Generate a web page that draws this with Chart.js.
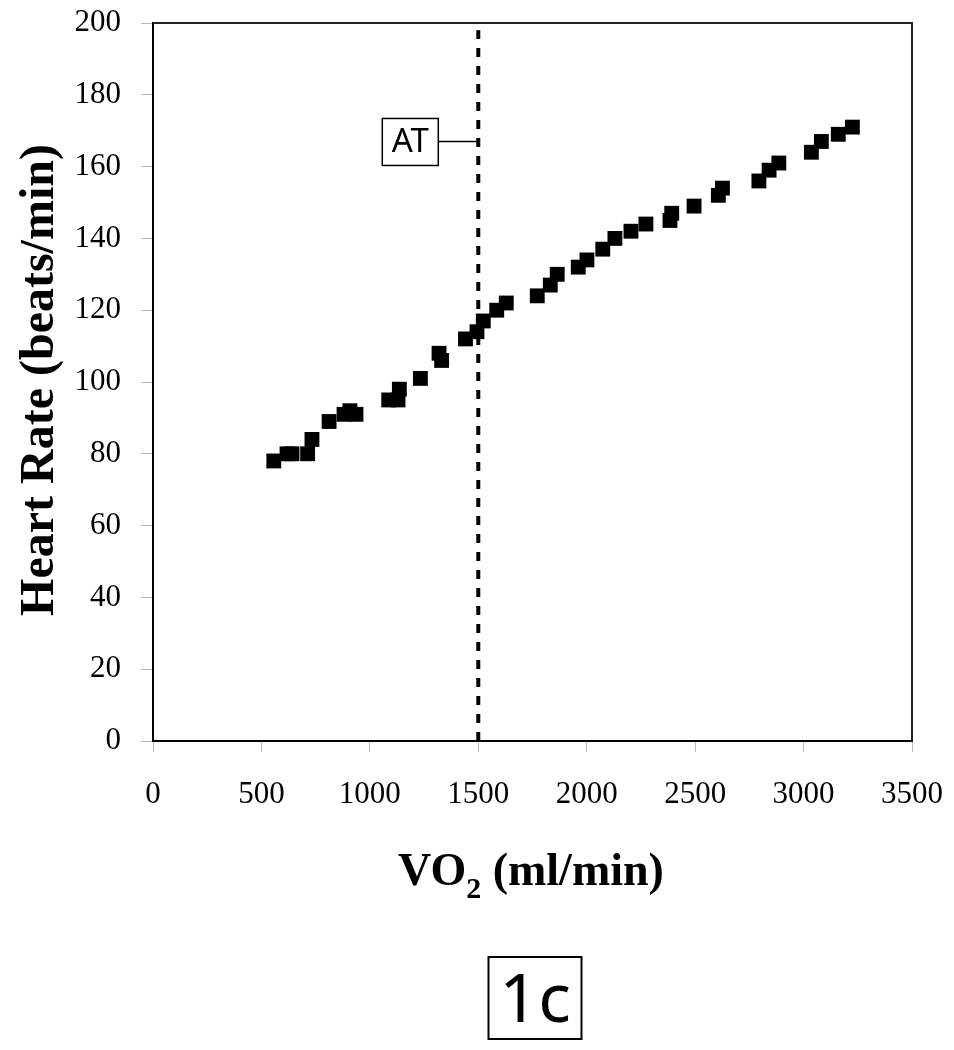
<!DOCTYPE html>
<html>
<head>
<meta charset="utf-8">
<script src="https://cdn.jsdelivr.net/npm/chart.js@4.4.1/dist/chart.umd.min.js"></script>
<style>
  html, body { margin: 0; padding: 0; background: #fff; }
  #wrap { width: 954px; height: 1050px; }
</style>
</head>
<body>
<div id="wrap"><canvas id="chart" width="954" height="1050"></canvas></div>
<script>
/* ---------- dados ---------- */
const vo2 = [557, 618, 641, 713, 733, 812, 881, 908, 936, 1087, 1130, 1136, 1233, 1319, 1331,
  1441, 1494, 1523, 1585, 1629, 1772, 1832, 1864, 1961, 2001, 2074, 2130, 2204, 2273,
  2384, 2392, 2495, 2607, 2626, 2794, 2841, 2886, 3036, 3082, 3160, 3225];
const heartRate = [78, 80, 80, 80, 84, 89, 91, 92, 91, 95, 95, 98, 101, 108, 106,
  112, 114, 117, 120, 122, 124, 127, 130, 132, 134, 137, 140, 142, 144,
  145, 147, 149, 152, 154, 156, 159, 161, 164, 167, 169, 171];
const atVO2 = 1500;
const atLabelHR = 167;
const xTicks = [0, 500, 1000, 1500, 2000, 2500, 3000, 3500];
const yTicks = [0, 20, 40, 60, 80, 100, 120, 140, 160, 180, 200];

const SERIF = "'Liberation Serif', 'Times New Roman', serif";
const SANS = "'Noto Sans', 'Liberation Sans', sans-serif";

/* ---------- moldura, rótulo AT, títulos e caixa 1c ---------- */
const decorPlugin = {
  id: 'decor',
  afterDatasetsDraw(chart) {
    const { ctx, chartArea: a, scales: { x, y } } = chart;
    ctx.save();

    // moldura (topo e direita)
    ctx.strokeStyle = '#222';
    ctx.lineWidth = 2;
    ctx.beginPath();
    ctx.moveTo(a.left, a.top);
    ctx.lineTo(a.right, a.top);
    ctx.lineTo(a.right, a.bottom);
    ctx.stroke();

    // rótulo AT com ligação até a linha tracejada
    const lx = x.getPixelForValue(atVO2);
    const ly = y.getPixelForValue(atLabelHR);
    const bw = 56, bh = 47, bRight = lx - 40;
    ctx.lineWidth = 1.5;
    ctx.strokeStyle = '#000';
    ctx.beginPath();
    ctx.moveTo(bRight, ly);
    ctx.lineTo(lx, ly);
    ctx.stroke();
    ctx.strokeRect(bRight - bw, ly - 23, bw, bh);
    ctx.fillStyle = '#000';
    ctx.font = `33px ${SANS}`;
    ctx.textAlign = 'center';
    ctx.textBaseline = 'alphabetic';
    ctx.fillText('AT', bRight - bw / 2, ly + 11);

    // título do eixo Y
    ctx.save();
    ctx.translate(53, 380);
    ctx.rotate(-Math.PI / 2);
    ctx.font = `bold 48px ${SERIF}`;
    ctx.textAlign = 'center';
    ctx.fillText('Heart Rate (beats/min)', 0, 0);
    ctx.restore();

    // título do eixo X com subscrito
    const big = `bold 46px ${SERIF}`, small = `bold 30px ${SERIF}`;
    ctx.textAlign = 'left';
    ctx.font = big; const w1 = ctx.measureText('VO').width;
    ctx.font = small; const w2 = ctx.measureText('2').width;
    ctx.font = big; const w3 = ctx.measureText(' (ml/min)').width;
    let tx = 531 - (w1 + w2 + w3) / 2;
    const base = 885;
    ctx.font = big; ctx.fillText('VO', tx, base); tx += w1;
    ctx.font = small; ctx.fillText('2', tx, base + 13); tx += w2;
    ctx.font = big; ctx.fillText(' (ml/min)', tx, base);

    // caixa "1c"
    ctx.lineWidth = 2;
    ctx.strokeRect(488.5, 957, 93, 82);
    ctx.font = `68px ${SANS}`;
    ctx.textAlign = 'center';
    ctx.fillText('1c', 535, 1022);

    ctx.restore();
  }
};

new Chart(document.getElementById('chart'), {
  type: 'scatter',
  data: {
    datasets: [
      {
        label: 'HR',
        data: vo2.map((v, i) => ({ x: v, y: heartRate[i] })),
        pointStyle: 'rect',
        pointRadius: 10.5,
        pointHoverRadius: 10.5,
        backgroundColor: '#000',
        borderColor: '#000',
        borderWidth: 0
      },
      {
        label: 'AT',
        type: 'line',
        data: [{ x: atVO2, y: 0 }, { x: atVO2, y: 198 }],
        borderColor: '#000',
        borderWidth: 4,
        borderDash: [9, 9],
        pointRadius: 0,
        fill: false
      }
    ]
  },
  options: {
    responsive: false,
    animation: false,
    layout: { padding: { left: 0, top: 23, right: 42, bottom: 0 } },
    plugins: { legend: { display: false }, tooltip: { enabled: false } },
    scales: {
      x: {
        type: 'linear', min: 0, max: 3500,
        afterBuildTicks: s => { s.ticks = xTicks.map(v => ({ value: v })); },
        afterFit: s => { s.height = 309; s.paddingLeft = 0; s.paddingRight = 0; },
        grid: { drawOnChartArea: false, drawTicks: true, tickLength: 11, color: '#bbb' },
        border: { display: true, color: '#000', width: 2 },
        ticks: { color: '#000', font: { family: SERIF, size: 31 }, padding: 24, maxRotation: 0,
          callback: v => String(v) }
      },
      y: {
        type: 'linear', min: 0, max: 200,
        afterBuildTicks: s => { s.ticks = yTicks.map(v => ({ value: v })); },
        afterFit: s => { s.width = 153; s.paddingTop = 0; s.paddingBottom = 0; },
        grid: { drawOnChartArea: false, drawTicks: true, tickLength: 12, color: '#bbb' },
        border: { display: true, color: '#000', width: 2 },
        ticks: { color: '#000', font: { family: SERIF, size: 31 }, padding: 20,
          callback: v => String(v) }
      }
    }
  },
  plugins: [decorPlugin]
});
</script>
</body>
</html>
